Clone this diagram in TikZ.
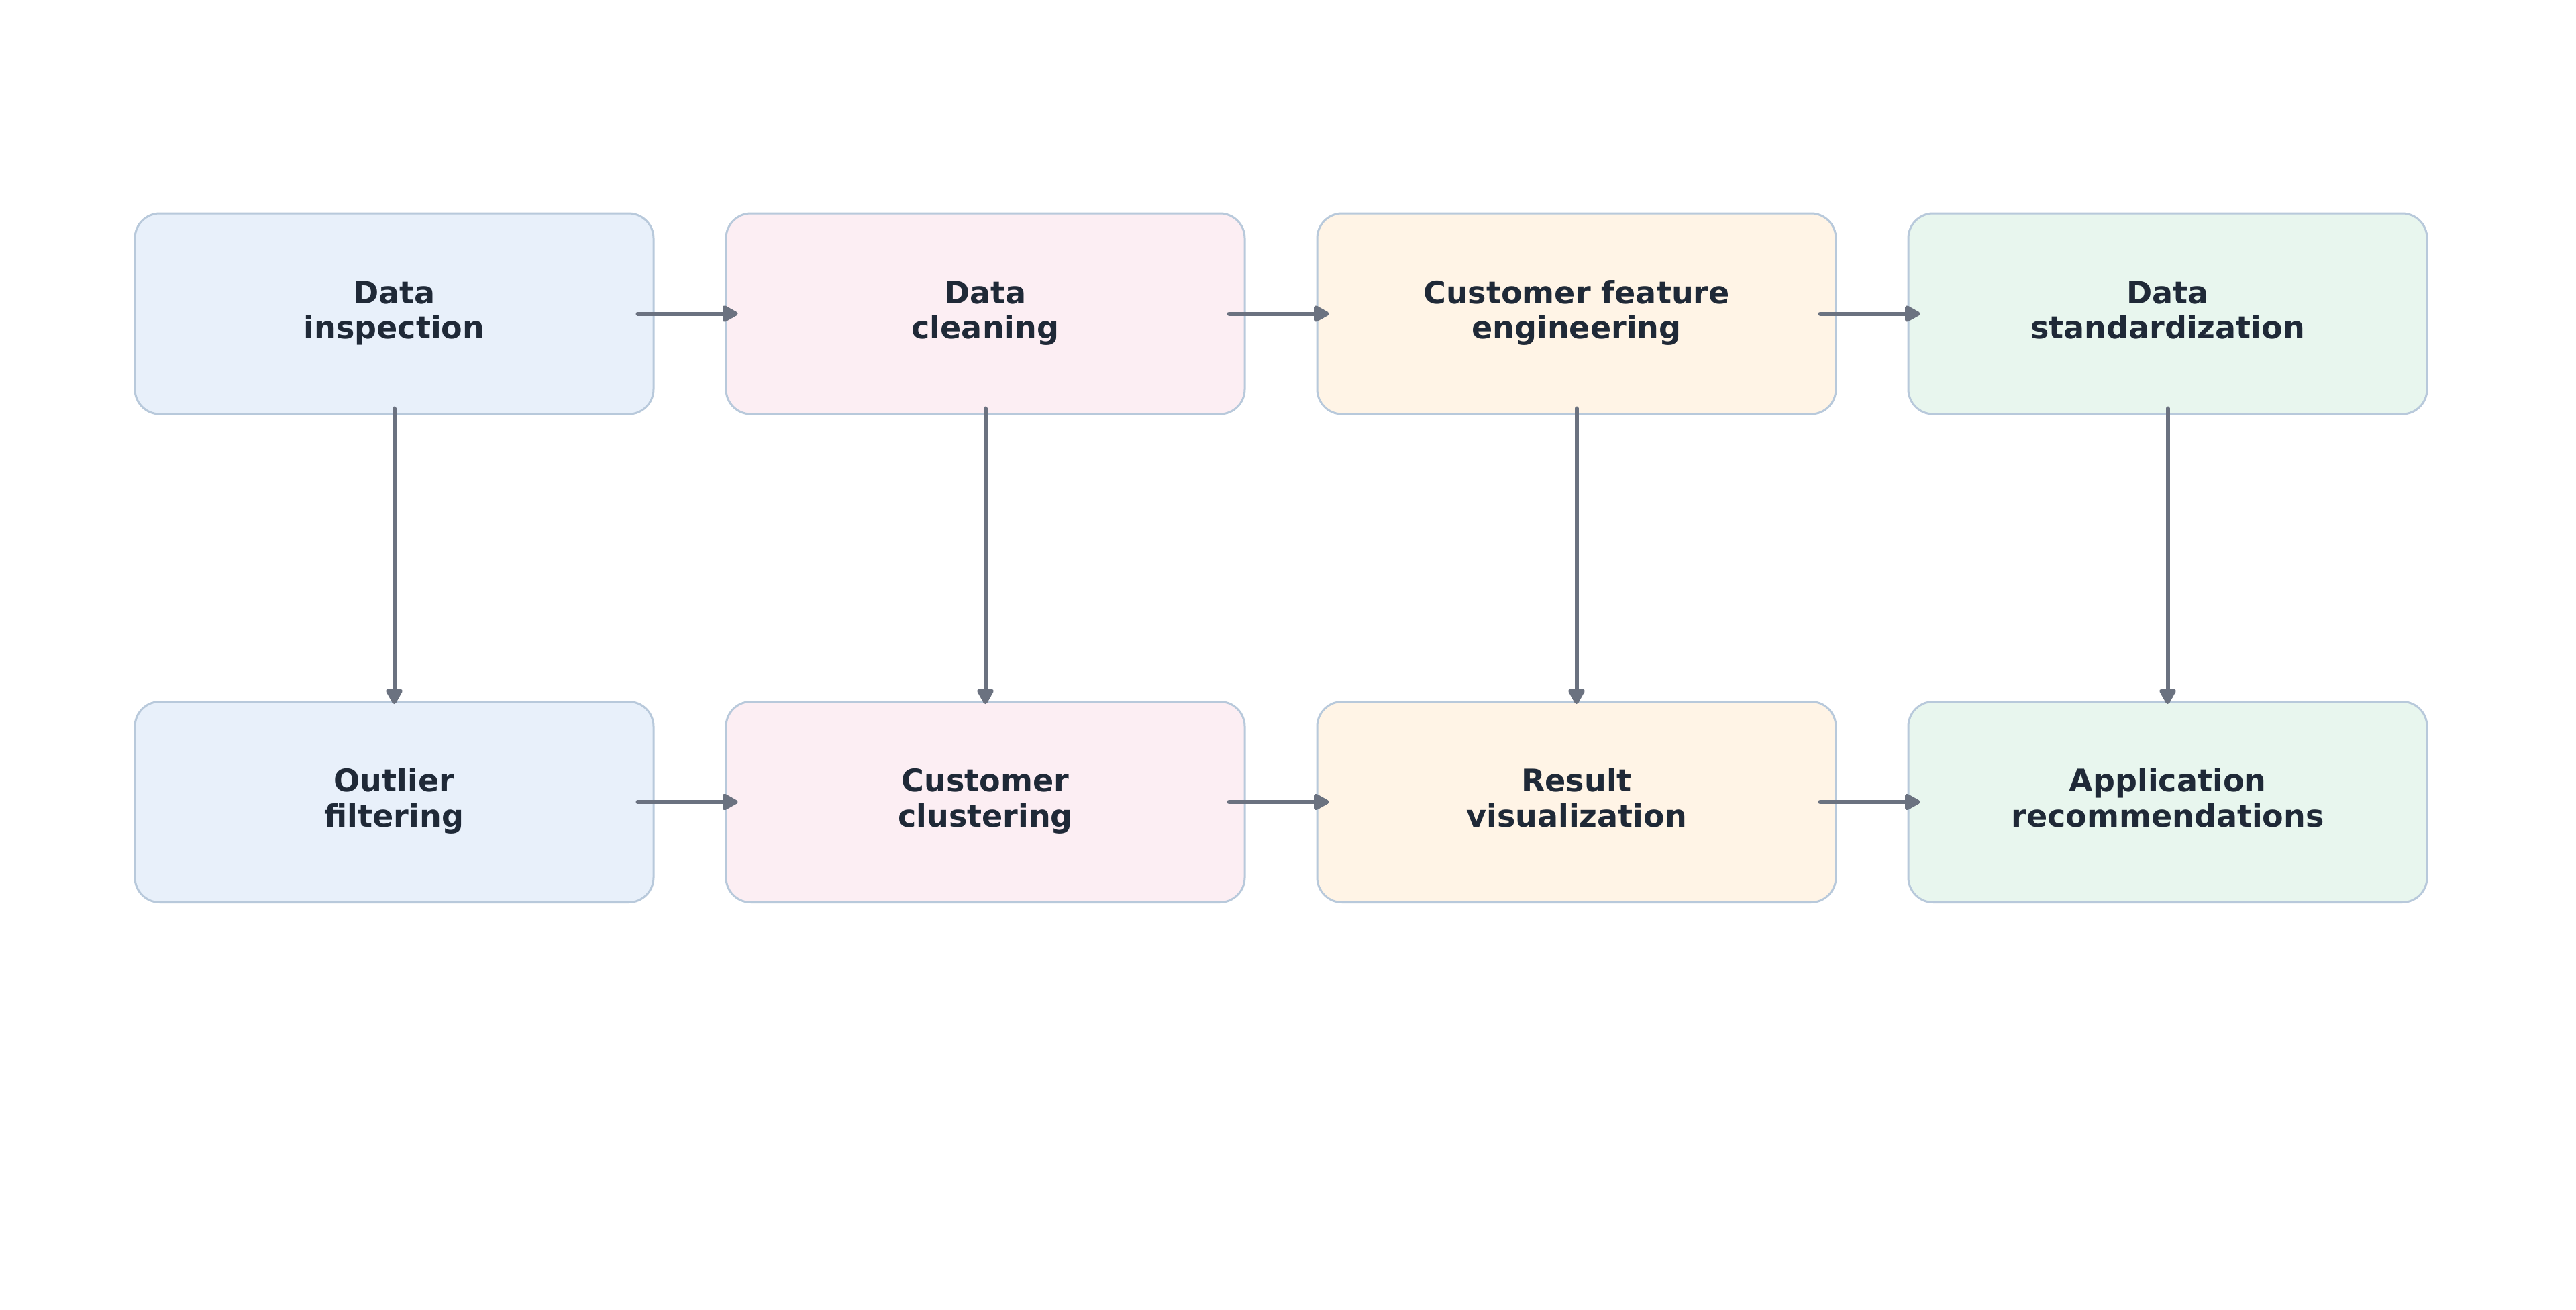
\documentclass[tikz,border=0pt]{standalone}
\usepackage{fontspec}
\setmainfont{DejaVu Sans}
\usepackage{xcolor}
\usepackage{tikz}
\usetikzlibrary{positioning, arrows.meta}

\definecolor{edgeBlue}{HTML}{B8C9DB}
\definecolor{arrowGray}{HTML}{6B7280}
\definecolor{textDark}{HTML}{1F2937}
\definecolor{fillBlue}{HTML}{E8F0FA}
\definecolor{fillPink}{HTML}{FCEEF3}
\definecolor{fillOrange}{HTML}{FFF4E6}
\definecolor{fillGreen}{HTML}{E8F6EE}

\begin{document}
\begin{tikzpicture}[
        every node/.style={draw=edgeBlue, line width=0.03cm, rounded corners=0.37cm, minimum height=2.99cm, minimum width=7.73cm, align=center, text=textDark, text height=0.81cm, text depth=0.07cm, font=\fontsize{13.1}{14.8}\selectfont\bfseries},
        stage/.style={fill=#1},
        arrow/.style={-{Triangle[length=0.26cm, width=0.27cm, round]}, line width=0.06cm, line cap=round, draw=arrowGray}
    ]
        \useasboundingbox (0,0) rectangle (38.39,-19.51);
        % Nodes
        \node (inspect) at (5.875, -4.675) [stage=fillBlue] {Data\\inspection};
        \node (clean) at (14.685, -4.675) [stage=fillPink] {Data\\cleaning};
        \node (features) at (23.495, -4.675) [stage=fillOrange] {Customer feature\\engineering};
        \node (standard) at (32.305, -4.675) [stage=fillGreen] {Data\\standardization};
        \node (outlier) at (5.875, -11.95) [stage=fillBlue] {Outlier\\filtering};
        \node (cluster) at (14.685, -11.95) [stage=fillPink] {Customer\\clustering};
        \node (visual) at (23.495, -11.95) [stage=fillOrange] {Result\\visualization};
        \node (recommend) at (32.305, -11.95) [stage=fillGreen] {Application\\recommendations};

    \begin{scope}[shorten <=-0.25cm, shorten >=-0.19cm]
        % Connections (rows)
        \draw[arrow] (inspect) -- (clean);
        \draw[arrow] (clean) -- (features);
        \draw[arrow] (features) -- (standard);
        \draw[arrow] (outlier) -- (cluster);
        \draw[arrow] (cluster) -- (visual);
        \draw[arrow] (visual) -- (recommend);
    \end{scope}
    \begin{scope}[shorten <=-0.10cm, shorten >=-0.05cm]
        % Connections (columns)
        \draw[arrow] (inspect) -- (outlier);
        \draw[arrow] (clean) -- (cluster);
        \draw[arrow] (features) -- (visual);
        \draw[arrow] (standard) -- (recommend);
    \end{scope}
    \end{tikzpicture}
\end{document}
